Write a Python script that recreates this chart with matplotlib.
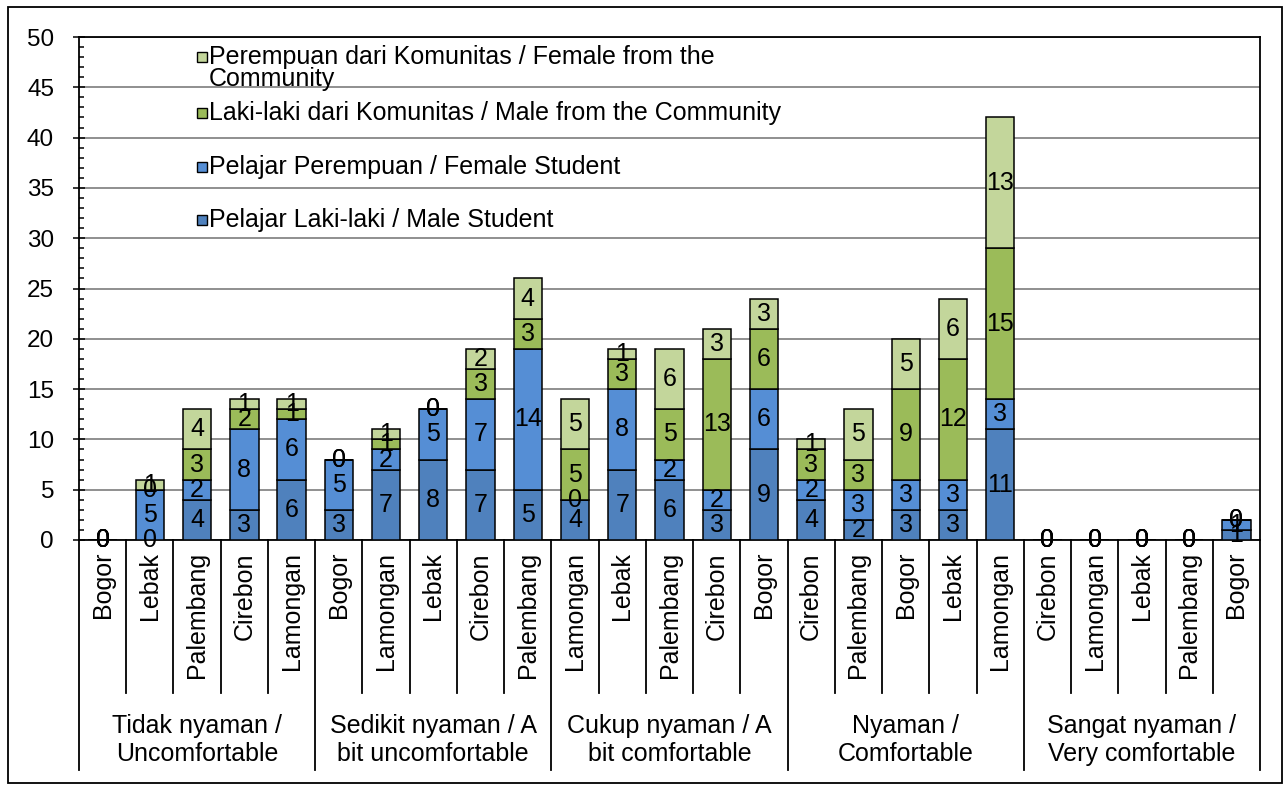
import numpy as np
import matplotlib
matplotlib.use("Agg")
import matplotlib.pyplot as plt
from matplotlib.patches import Rectangle
from matplotlib.lines import Line2D

plt.rcParams['font.family'] = ['Liberation Sans', 'DejaVu Sans']

groups = ["Tidak nyaman /\nUncomfortable", "Sedikit nyaman / A\nbit uncomfortable",
          "Cukup nyaman / A\nbit comfortable", "Nyaman /\nComfortable",
          "Sangat nyaman /\nVery comfortable"]
cities = ["Bogor", "Lebak", "Palembang", "Cirebon", "Lamongan",
          "Bogor", "Lamongan", "Lebak", "Cirebon", "Palembang",
          "Lamongan", "Lebak", "Palembang", "Cirebon", "Bogor",
          "Cirebon", "Palembang", "Bogor", "Lebak", "Lamongan",
          "Cirebon", "Lamongan", "Lebak", "Palembang", "Bogor"]
male_student = [0, 0, 4, 3, 6, 3, 7, 8, 7, 5, 4, 7, 6, 3, 9, 4, 2, 3, 3, 11, 0, 0, 0, 0, 1]
female_student = [0, 5, 2, 8, 6, 5, 2, 5, 7, 14, 0, 8, 2, 2, 6, 2, 3, 3, 3, 3, 0, 0, 0, 0, 1]
male_comm = [0, 0, 3, 2, 1, 0, 1, 0, 3, 3, 5, 3, 5, 13, 6, 3, 3, 9, 12, 15, 0, 0, 0, 0, 0]
female_comm = [0, 1, 4, 1, 1, 0, 1, 0, 2, 4, 5, 1, 6, 3, 3, 1, 5, 5, 6, 13, 0, 0, 0, 0, 0]

series = [
    ("Pelajar Laki-laki / Male Student", male_student, "#4F81BD"),
    ("Pelajar Perempuan / Female Student", female_student, "#558ED5"),
    ("Laki-laki dari Komunitas / Male from the Community", male_comm, "#9BBB59"),
    ("Perempuan dari Komunitas / Female from the\nCommunity", female_comm, "#C3D69B"),
]

W, H = 1284, 785
fig = plt.figure(figsize=(W / 100, H / 100), dpi=100)
L, R, T, B = 79, 1260, 37, 540
ax = fig.add_axes([L / W, 1 - B / H, (R - L) / W, (B - T) / H])

FS = 18
x = np.arange(len(cities))
bottom = np.zeros(len(cities))
for name, vals, col in series:
    v = np.array(vals, dtype=float)
    ax.bar(x, v, 0.6, bottom=bottom, color=col, edgecolor='black', linewidth=1.1, zorder=3)
    for xi, b, vi in zip(x, bottom, v):
        ax.text(xi, b + vi / 2, f"{int(vi)}", ha='center', va='center', fontsize=FS,
                zorder=5, clip_on=False)
    bottom = bottom + v

ax.set_xlim(-0.5, len(cities) - 0.5)
ax.set_ylim(0, 50)
ax.set_yticks(np.arange(0, 51, 5))
ax.set_yticks(np.arange(0, 51, 1), minor=True)
ax.tick_params(axis='y', which='major', direction='inout', length=8, width=1.1,
               labelsize=17.5, pad=14)
ax.tick_params(axis='y', which='minor', direction='in', length=3.5, width=1.1)
ax.set_xticks([])
ax.yaxis.grid(True, which='major', color='#878787', linewidth=1.3, zorder=0)
ax.set_axisbelow(True)
for s in ax.spines.values():
    s.set_color('black')
    s.set_linewidth(1.3)

# multi-level category axis
tr = ax.get_xaxis_transform()
y_inner = (B - 693) / (B - T)
y_outer = (B - 770) / (B - T)
for i in range(len(cities) + 1):
    xb = i - 0.5
    yb = y_outer if i % 5 == 0 else y_inner
    ax.add_line(Line2D([xb, xb], [0, yb], transform=tr, color='black', linewidth=1.3,
                       clip_on=False))
for xi, c in zip(x, cities):
    ax.text(xi, (B - 552) / (B - T), c, rotation=90, ha='center', va='top', fontsize=FS,
            transform=tr, clip_on=False)
for g, name in enumerate(groups):
    ax.text(g * 5 + 2, (B - 740) / (B - T), name, ha='center', va='center', fontsize=FS,
            transform=tr, linespacing=1.2, clip_on=False)

# legend (top to bottom, reversed order)
leg_y = [68, 113, 167, 220]
for (name, vals, col), yy in zip(series[::-1], leg_y):
    sq_y = 57 if "\n" in name else yy
    fig.patches.append(Rectangle(((197) / W, 1 - (sq_y + 5) / H), 10 / W, 10 / H,
                                 transform=fig.transFigure, facecolor=col,
                                 edgecolor='black', linewidth=1.0, zorder=6))
    fig.text(209 / W, 1 - yy / H, name, ha='left', va='center', fontsize=FS,
             linespacing=0.88, zorder=6)

# outer frame
fig.patches.append(Rectangle((8 / W, 1 - 783 / H), (1282 - 8) / W, (783 - 7) / H,
                             transform=fig.transFigure, fill=False, edgecolor='black',
                             linewidth=1.3))

fig.savefig("out.png", dpi=100)
